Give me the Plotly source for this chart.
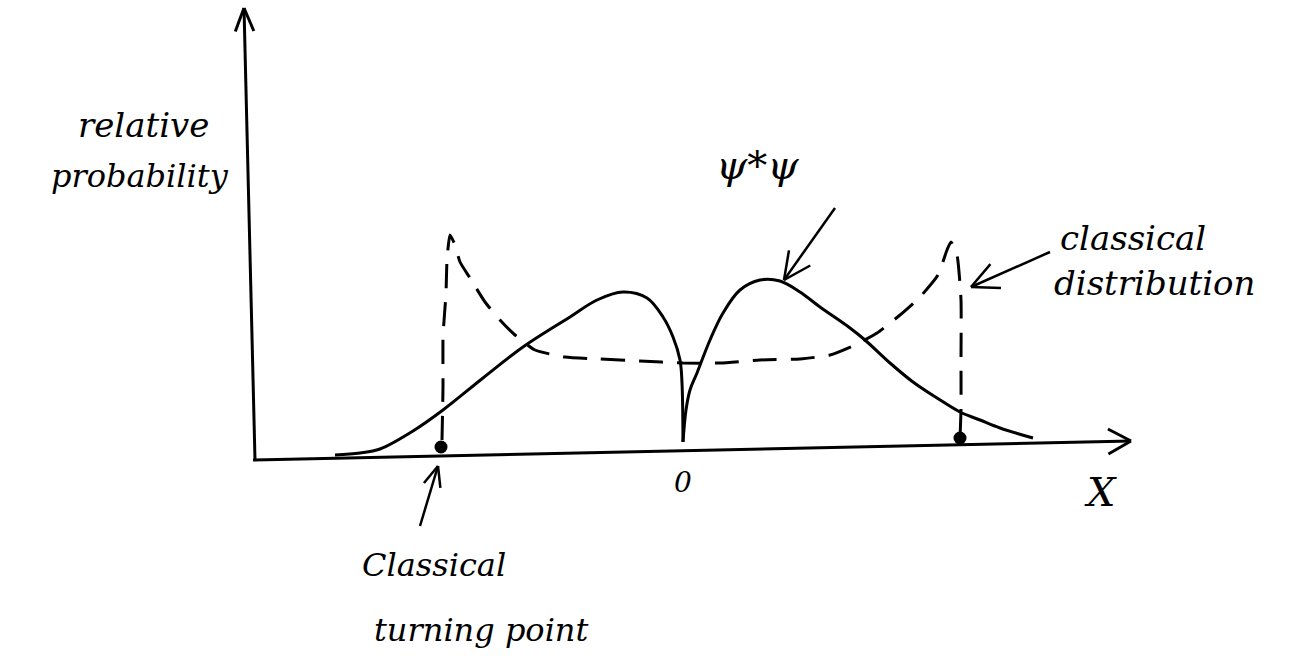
import numpy as np
import plotly.graph_objects as go

# Quantum probability density psi*psi (first excited state), sampled along x
psi_x = [-3.48, -3.23, -3.03, -2.70, -2.40, -2.00, -1.60, -1.13, -0.86, -0.60,
         -0.36, -0.20, -0.10, -0.03, -0.01, 0.00, 0.03, 0.07, 0.14, 0.27, 0.40,
         0.57, 0.77, 0.97, 1.17, 1.37, 1.67, 1.82, 2.07, 2.30, 2.54, 2.77,
         2.97, 3.17, 3.50]
psi_y = [-0.13, -0.11, -0.07, 0.11, 0.32, 0.64, 0.95, 1.25, 1.42, 1.50,
         1.44, 1.25, 1.05, 0.82, 0.59, 0.00, 0.32, 0.52, 0.69, 1.02, 1.29,
         1.52, 1.62, 1.61, 1.50, 1.35, 1.14, 1.02, 0.79, 0.60, 0.44, 0.30,
         0.22, 0.14, 0.04]

# Classical distribution between the two turning points
classical_x = [-2.41, -2.40, -2.40, -2.37, -2.36, -2.33, -2.28, -2.23, -2.13,
               -1.98, -1.83, -1.68, -1.48, -1.18, -0.83, -0.43, 0.00, 0.37,
               0.77, 1.17, 1.47, 1.72, 1.94, 2.17, 2.37, 2.55, 2.64, 2.68,
               2.74, 2.78, 2.78, 2.78, 2.77]
classical_y = [0.02, 0.55, 1.05, 1.49, 1.82, 2.07, 1.97, 1.80, 1.64,
               1.40, 1.22, 1.07, 0.92, 0.85, 0.83, 0.81, 0.79, 0.79,
               0.82, 0.83, 0.87, 0.97, 1.09, 1.27, 1.45, 1.67, 1.92, 2.00,
               1.87, 1.42, 0.82, 0.32, 0.04]

# Classical turning points on the x axis
turning_x = [-2.42, 2.77]
turning_y = [-0.05, 0.04]

INK = "#000000"
FONT = "DejaVu Serif"


def px(x):
    return (x - 683) / 100.0


def py(y):
    return (442 - y) / 100.0


fig = go.Figure()


def line(xs, ys, width=3, dash=None, shape="linear", smoothing=None):
    ln = dict(color=INK, width=width, shape=shape)
    if dash:
        ln["dash"] = dash
    if smoothing is not None:
        ln["smoothing"] = smoothing
    fig.add_trace(go.Scatter(x=xs, y=ys, mode="lines", line=ln,
                             hoverinfo="skip", showlegend=False))


def arrow(x0, y0, x1, y1, head=0.22, spread=0.45, width=2.5):
    """Straight shaft with an open V head at (x1, y1)."""
    line([x0, x1], [y0, y1], width=width)
    ang = np.arctan2(y1 - y0, x1 - x0)
    for s in (-spread, spread):
        a = ang + np.pi + s
        line([x1, x1 + head * np.cos(a)], [y1, y1 + head * np.sin(a)], width=width)


# Axes drawn as hand-style arrows
arrow(px(255), py(460), px(244), py(8), head=0.25, spread=0.38, width=3)
arrow(px(253), py(460), px(1131), py(441), head=0.26, spread=0.5, width=3)

# Classical distribution (dashed)
line(classical_x, classical_y, width=3, dash="24px,14px", shape="spline", smoothing=0.5)

# psi*psi: two smooth branches meeting in the cusp at the node
node = int(np.argmin(np.abs(psi_x)))
line(psi_x[:node + 1], psi_y[:node + 1], width=3, shape="spline", smoothing=1.0)
line(psi_x[node:], psi_y[node:], width=3, shape="spline", smoothing=1.0)

# Turning-point dots
fig.add_trace(go.Scatter(x=turning_x, y=turning_y, mode="markers",
                         marker=dict(color=INK, size=13),
                         hoverinfo="skip", showlegend=False))

# Label pointers
arrow(px(835), py(208), px(784), py(280), head=0.3, spread=0.45)
arrow(px(1050), py(252), px(971), py(287), head=0.3, spread=0.45)
arrow(px(420), py(526), px(438), py(466), head=0.22, spread=0.4)


def label(text, x, y, size, anchor="center"):
    fig.add_annotation(x=px(x), y=py(y), xref="x", yref="y", text=text,
                       showarrow=False, xanchor=anchor, yanchor="middle",
                       font=dict(family=FONT, size=size, color=INK, style="italic"))


label("relative", 143, 125, 34)
label("probability", 140, 176, 32)
label("ψ*ψ", 757, 165, 40)
label("classical", 1058, 238, 34, anchor="left")
label("distribution", 1052, 283, 34, anchor="left")
label("0", 683, 482, 28)
label("X", 1100, 492, 40)
label("Classical", 360, 565, 32, anchor="left")
label("turning point", 372, 630, 32, anchor="left")

fig.update_layout(
    width=1303, height=670,
    margin=dict(l=0, r=0, t=0, b=0),
    paper_bgcolor="white", plot_bgcolor="white",
    xaxis=dict(range=[px(0), px(1303)], visible=False, fixedrange=True),
    yaxis=dict(range=[py(670), py(0)], visible=False, fixedrange=True),
    showlegend=False,
)

fig.write_html("out.html")
